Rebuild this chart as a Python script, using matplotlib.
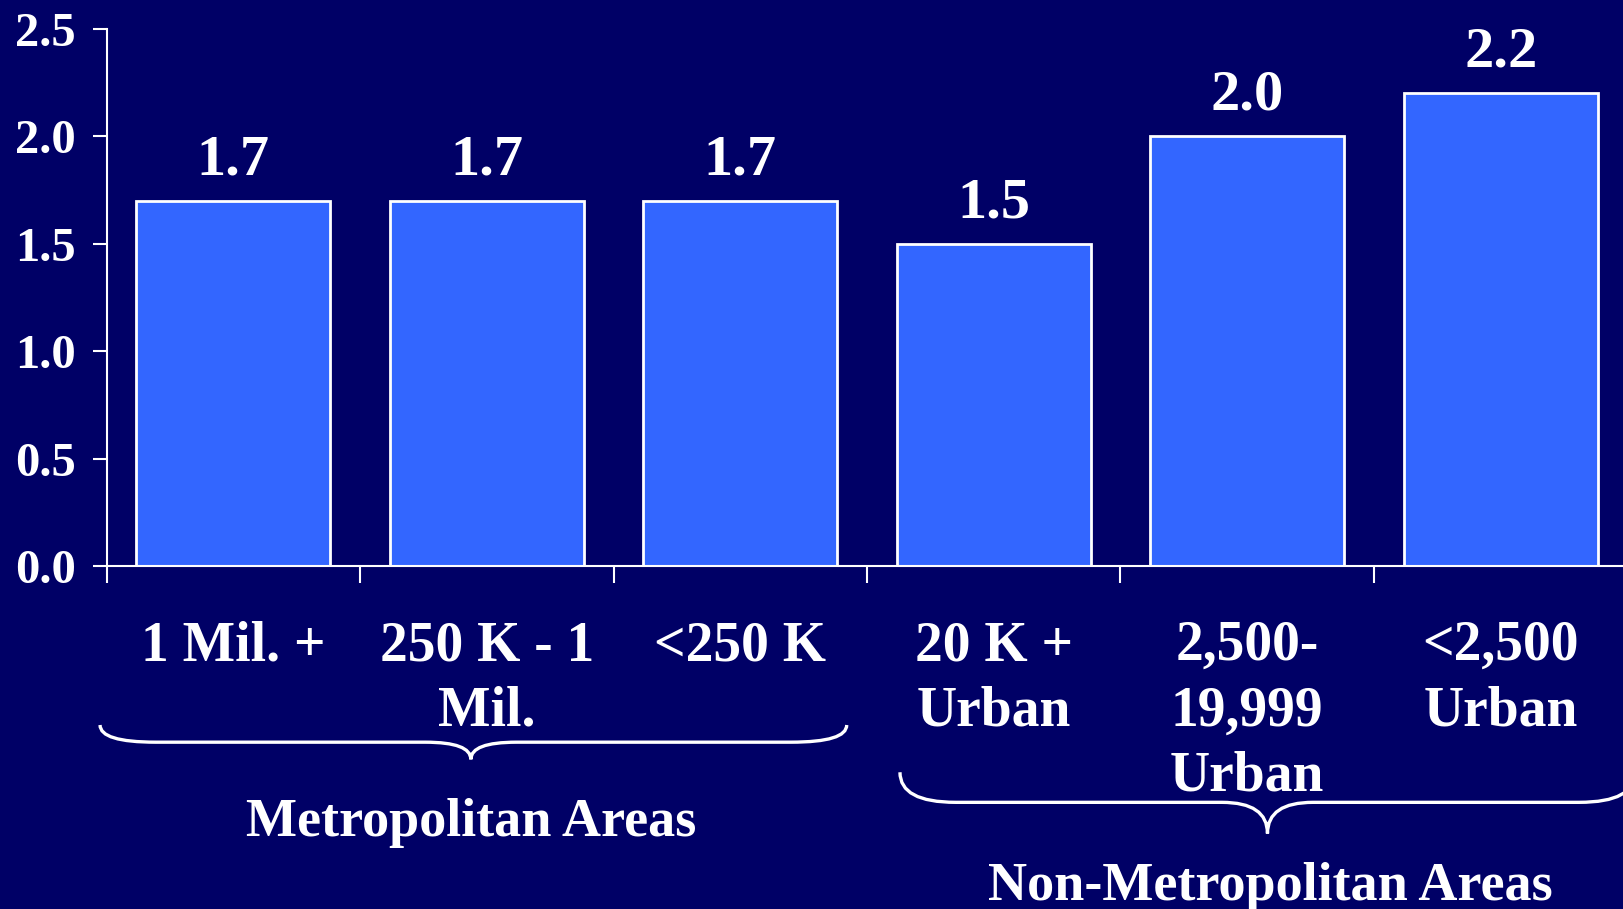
import matplotlib
matplotlib.use("Agg")
import matplotlib.pyplot as plt
from matplotlib.path import Path
from matplotlib.patches import PathPatch

# data
categories = ["1 Mil. +", "250 K - 1\nMil.", "<250 K",
              "20 K +\nUrban", "2,500-\n19,999\nUrban", "<2,500\nUrban"]
values = [1.7, 1.7, 1.7, 1.5, 2.0, 2.2]
value_labels = ["1.7", "1.7", "1.7", "1.5", "2.0", "2.2"]
yticks = [0.0, 0.5, 1.0, 1.5, 2.0, 2.5]
groups = ["Metropolitan Areas", "Non-Metropolitan Areas"]

BG = "#000066"
BAR = "#3366FF"
FONT = "Liberation Serif"

plt.rcParams["font.family"] = FONT
plt.rcParams["font.weight"] = "bold"

fig = plt.figure(figsize=(16.23, 9.09), dpi=100, facecolor=BG)
ax = fig.add_axes([0.0657, 0.3773, 0.937, 0.5908])
ax.set_facecolor(BG)

x = list(range(len(categories)))
ax.bar(x, values, width=0.765, color=BAR, edgecolor="white", linewidth=2)

for xi, v, lab in zip(x, values, value_labels):
    ax.annotate(lab, (xi, v), xytext=(0, 10.5), textcoords="offset points",
                ha="center", va="bottom", color="white", fontsize=42,
                fontweight="bold")

ax.set_xlim(-0.5, 5.5)
ax.set_ylim(0, 2.5)
ax.set_yticks(yticks)
ax.set_yticklabels([f"{t:.1f}" for t in yticks], fontsize=35,
                   fontweight="bold", color="white")
ax.tick_params(axis="y", direction="out", length=10, width=1.5,
               color="white", pad=12)

ax.set_xticks(x)
ax.set_xticklabels(categories, fontsize=40, fontweight="bold", color="white",
                   linespacing=1.33)
ax.tick_params(axis="x", which="major", length=0, pad=39)
ax.set_xticks([i - 0.5 for i in range(len(categories) + 1)], minor=True)
ax.tick_params(axis="x", which="minor", direction="out", length=12,
               width=1.5, color="white")

for s in ["top", "right"]:
    ax.spines[s].set_visible(False)
for s in ["left", "bottom"]:
    ax.spines[s].set_color("white")
    ax.spines[s].set_linewidth(1.5)


def brace(ax, x0, x1, xc, y_end, y_line, y_tip, r_end=0.22, r_mid=0.18):
    verts = [
        (x0, y_end), (x0, y_line), (x0 + r_end, y_line),
        (xc - r_mid, y_line),
        (xc, y_line), (xc, y_tip),
        (xc, y_line), (xc + r_mid, y_line),
        (x1 - r_end, y_line),
        (x1, y_line), (x1, y_end),
    ]
    codes = [Path.MOVETO, Path.CURVE3, Path.CURVE3,
             Path.LINETO,
             Path.CURVE3, Path.CURVE3,
             Path.CURVE3, Path.CURVE3,
             Path.LINETO,
             Path.CURVE3, Path.CURVE3]
    patch = PathPatch(Path(verts, codes), facecolor="none", edgecolor="white",
                      linewidth=2.4, clip_on=False)
    ax.add_patch(patch)


# group braces and labels
brace(ax, -0.526, 2.42, 0.937, -0.74, -0.82, -0.90)
brace(ax, 2.63, 5.53, 4.08, -0.96, -1.10, -1.245)
ax.text(0.937, -1.257, groups[0], ha="center", va="baseline", color="white",
        fontsize=39, fontweight="bold")
ax.text(4.09, -1.555, groups[1], ha="center", va="baseline", color="white",
        fontsize=39, fontweight="bold")

fig.savefig("out.png", dpi=100, facecolor=BG)
